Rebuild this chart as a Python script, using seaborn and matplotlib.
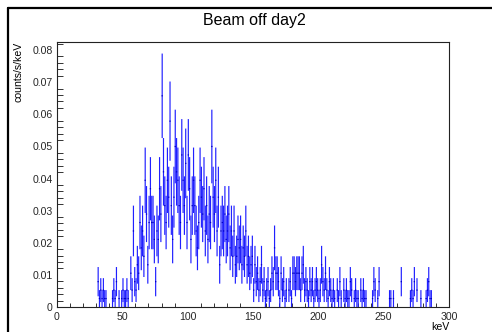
import numpy as np
import pandas as pd
import seaborn as sns
import matplotlib.pyplot as plt
from matplotlib.lines import Line2D
from matplotlib.ticker import MultipleLocator

# counts per 1 keV bin, starting at 30 keV (bins below are empty)
start_kev = 30
counts = [
    0, 3, 1, 2, 1, 2, 1, 1, 0, 0,
    0, 0, 1, 2, 1, 3, 0, 1, 0, 1,
    2, 1, 1, 2, 1, 0, 4, 2, 9, 3,
    2, 5, 4, 10, 7, 9, 6, 15, 11, 5,
    10, 14, 10, 10, 8, 3, 9, 8, 14, 11,
    25, 16, 12, 10, 15, 13, 22, 12, 8, 13,
    19, 16, 15, 12, 10, 18, 15, 12, 17, 10,
    18, 14, 8, 12, 15, 12, 9, 7, 10, 15,
    13, 11, 14, 9, 12, 8, 11, 10, 19, 13,
    11, 15, 9, 13, 5, 9, 10, 9, 11, 8,
    9, 11, 7, 9, 6, 9, 5, 6, 8, 7,
    8, 5, 7, 6, 9, 5, 6, 4, 5, 6,
    2, 5, 3, 4, 2, 3, 5, 2, 3, 1,
    2, 3, 1, 2, 4, 3, 7, 4, 4, 3,
    1, 4, 2, 3, 1, 2, 0, 2, 3, 1,
    4, 4, 3, 4, 4, 4, 2, 4, 5, 2,
    3, 2, 1, 3, 2, 3, 1, 2, 3, 2,
    1, 2, 5, 3, 2, 4, 2, 1, 3, 2,
    1, 2, 1, 0, 2, 1, 3, 1, 0, 2,
    1, 2, 1, 1, 3, 2, 0, 1, 2, 1,
    1, 0, 2, 1, 2, 1, 1, 0, 0, 0,
    0, 1, 3, 2, 0, 1, 3, 0, 0, 0,
    0, 0, 0, 0, 1, 1, 0, 1, 0, 0,
    0, 0, 0, 3, 0, 0, 0, 0, 0, 0,
    1, 2, 1, 3, 0, 2, 0, 0, 1, 0,
    0, 0, 1, 2, 3, 1, 1, 0, 0, 0,
]
rate_per_count = 0.00263  # counts/s/keV for one count in a bin

df = pd.DataFrame({"n": counts})
df["kev"] = start_kev + np.arange(len(df)) + 0.5
df = df[df["n"] > 0].reset_index(drop=True)
df["rate"] = df["n"] * rate_per_count
df["err"] = np.sqrt(df["n"]) * rate_per_count

sns.set_theme(style="white")
plt.rcParams["font.family"] = ["Liberation Sans", "DejaVu Sans"]

fig = plt.figure(figsize=(4.92, 3.32), dpi=100)
ax = fig.add_axes([57 / 492, 25 / 332, 392 / 492, 265 / 332])

x = df["kev"].to_numpy()
y = df["rate"].to_numpy()
e = df["err"].to_numpy()
bars = ax.vlines(x, y - e, y + e, colors="#2020ff", linewidth=0.85)
bars.set_snap(False)
marks = ax.hlines(y, x - 0.5, x + 0.5, colors="#0000c0", linewidth=0.85)
marks.set_snap(False)

ax.set_xlim(0, 300)
ax.set_ylim(0, 0.0825)
ax.set_xlabel("")
ax.set_ylabel("")
ax.xaxis.set_major_locator(MultipleLocator(50))
ax.xaxis.set_minor_locator(MultipleLocator(10))
ax.yaxis.set_minor_locator(MultipleLocator(0.002))
ax.set_yticks(np.arange(0, 0.081, 0.01))
ax.set_yticklabels(["0", "0.01", "0.02", "0.03", "0.04", "0.05", "0.06", "0.07", "0.08"])
ax.tick_params(axis="x", which="major", direction="in", length=5.8, width=0.7,
               color="#333333", labelsize=7.6, pad=3.5, top=False)
ax.tick_params(axis="x", which="minor", direction="in", length=2.9, width=0.7,
               color="#333333", top=False, bottom=True)
ax.tick_params(axis="y", which="major", direction="in", length=8.6, width=0.7,
               color="#333333", labelsize=7.6, pad=3, right=False)
ax.tick_params(axis="y", which="minor", direction="in", length=4.3, width=0.7,
               color="#333333", left=True, right=False)
for sp in ax.spines.values():
    sp.set_color("#222222")
    sp.set_linewidth(0.8)

fig.text(254 / 492, 1 - 20 / 332, "Beam off day2", ha="center", va="center",
         fontsize=11.5, color="black")
fig.text(18 / 492, 1 - 42 / 332, "counts/s/keV", rotation=90, ha="center",
         va="top", fontsize=7.6, color="black")
fig.text(449 / 492, 1 - 327 / 332, "keV", ha="right", va="center",
         fontsize=7.6, color="black")

# canvas border
fig.add_artist(Line2D([8 / 492, 8 / 492], [0, 1 - 8 / 332], color="black",
                      linewidth=1.6, transform=fig.transFigure))
fig.add_artist(Line2D([8 / 492, 1], [1 - 8 / 332, 1 - 8 / 332], color="black",
                      linewidth=1.6, transform=fig.transFigure))

fig.savefig("out.png", dpi=100)
